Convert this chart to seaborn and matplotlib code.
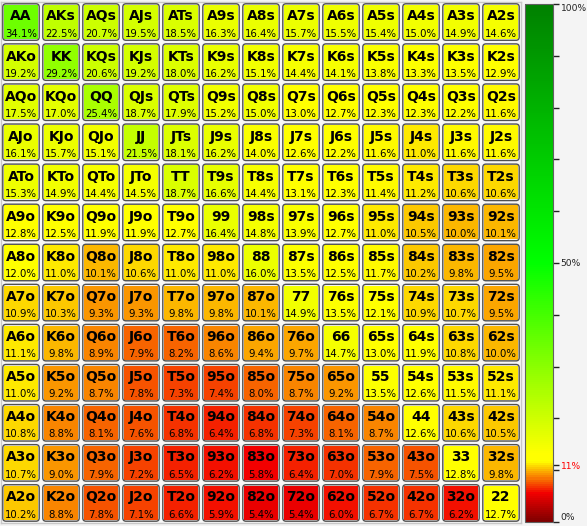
import numpy as np
import pandas as pd
import seaborn as sns
import matplotlib
matplotlib.use("Agg")
import matplotlib.pyplot as plt
from matplotlib.colors import LinearSegmentedColormap
from matplotlib.patches import FancyBboxPatch

ranks = ["A", "K", "Q", "J", "T", "9", "8", "7", "6", "5", "4", "3", "2"]

row_A = [34.1, 22.5, 20.7, 19.5, 18.5, 16.3, 16.4, 15.7, 15.5, 15.4, 15.0, 14.9, 14.6]
row_K = [19.2, 29.2, 20.6, 19.2, 18.0, 16.2, 15.1, 14.4, 14.1, 13.8, 13.3, 13.5, 12.9]
row_Q = [17.5, 17.0, 25.4, 18.7, 17.9, 15.2, 15.0, 13.0, 12.7, 12.3, 12.3, 12.2, 11.6]
row_J = [16.1, 15.7, 15.1, 21.5, 18.1, 16.2, 14.0, 12.6, 12.2, 11.6, 11.0, 11.6, 11.6]
row_T = [15.3, 14.9, 14.4, 14.5, 18.7, 16.6, 14.4, 13.1, 12.3, 11.4, 11.2, 10.6, 10.6]
row_9 = [12.8, 12.5, 11.9, 11.9, 12.7, 16.4, 14.8, 13.9, 12.7, 11.0, 10.5, 10.0, 10.1]
row_8 = [12.0, 11.0, 10.1, 10.6, 11.0, 11.0, 16.0, 13.5, 12.5, 11.7, 10.2, 9.8, 9.5]
row_7 = [10.9, 10.3, 9.3, 9.3, 9.8, 9.8, 10.1, 14.9, 13.5, 12.1, 10.9, 10.7, 9.5]
row_6 = [11.1, 9.8, 8.9, 7.9, 8.2, 8.6, 9.4, 9.7, 14.7, 13.0, 11.9, 10.8, 10.0]
row_5 = [11.0, 9.2, 8.7, 7.8, 7.3, 7.4, 8.0, 8.7, 9.2, 13.5, 12.6, 11.5, 11.1]
row_4 = [10.8, 8.8, 8.1, 7.6, 6.8, 6.4, 6.8, 7.3, 8.1, 8.7, 12.6, 10.6, 10.5]
row_3 = [10.7, 9.0, 7.9, 7.2, 6.5, 6.2, 5.8, 6.4, 7.0, 7.9, 7.5, 12.8, 9.8]
row_2 = [10.2, 8.8, 7.8, 7.1, 6.6, 5.9, 5.4, 5.4, 6.0, 6.7, 6.7, 6.2, 12.7]

rows = [row_A, row_K, row_Q, row_J, row_T, row_9, row_8, row_7,
        row_6, row_5, row_4, row_3, row_2]

cbar_ticks = [0, 10, 20, 30, 40, 50, 60, 70, 80, 90, 100]
cbar_labels = {0: "0%", 50: "50%", 100: "100%"}
threshold = 11

data = pd.DataFrame(rows, index=ranks, columns=ranks)

def hand_name(i, j):
    if i == j:
        return ranks[i] + ranks[j]
    if i < j:
        return ranks[i] + ranks[j] + "s"
    return ranks[j] + ranks[i] + "o"

cmap = LinearSegmentedColormap.from_list(
    "eq",
    [(0.0, (0.50, 0.0, 0.0)),
     (0.055, (0.95, 0.0, 0.0)),
     (0.115, (1.0, 1.0, 0.0)),
     (0.13, (1.0, 1.0, 0.0)),
     (0.50, (0.0, 1.0, 0.0)),
     (1.0, (0.0, 0.50, 0.0))])

W, H = 587, 526
fig = plt.figure(figsize=(W / 100, H / 100), dpi=100, facecolor="#f4f4f4")
ax = fig.add_axes([1 / W, 3 / H, 520 / W, 521 / H])
cax = fig.add_axes([525 / W, 4 / H, 28 / W, 518 / H])

sns.heatmap(data, ax=ax, cmap=cmap, vmin=0, vmax=100, cbar_ax=cax,
            linewidths=3, linecolor="#f7f7f7", square=False,
            xticklabels=False, yticklabels=False)

n = len(ranks)
for i in range(n):
    for j in range(n):
        v = data.iloc[i, j]
        ax.add_patch(FancyBboxPatch((j + 0.045, i + 0.045), 0.91, 0.91,
                                    boxstyle="round,pad=0,rounding_size=0.08",
                                    facecolor="none", edgecolor="#505050",
                                    linewidth=1.0, zorder=3))
        ax.text(j + 0.5, i + 0.36, hand_name(i, j), ha="center", va="center",
                fontsize=10, fontweight="bold", color="black", zorder=4)
        ax.text(j + 0.5, i + 0.79, f"{v:.1f}%", ha="center", va="center",
                fontsize=7.3, color="black", zorder=4)

for s in ax.spines.values():
    s.set_visible(True)
    s.set_color("#c8c8c8")
    s.set_linewidth(1)

# colorbar
cb = ax.collections[0].colorbar
cb.outline.set_edgecolor("#606060")
cb.outline.set_linewidth(0.8)
ticks = sorted(cbar_ticks + [threshold])
cb.set_ticks(ticks)
cb.set_ticklabels([f"{threshold}%" if t == threshold else cbar_labels.get(t, "") for t in ticks])
cax.tick_params(axis="y", length=4, width=1, labelsize=6.6, pad=1.5, colors="#222222")
for t, lab, tk in zip(ticks, cax.get_yticklabels(), cax.yaxis.get_major_ticks()):
    if t == threshold:
        lab.set_color("red")
        tk.tick2line.set_color("red")
        tk.tick1line.set_color("red")
    elif t == 100:
        lab.set_va("top")
    elif t == 0:
        lab.set_va("bottom")

fig.savefig("out.png", dpi=100, facecolor=fig.get_facecolor())
